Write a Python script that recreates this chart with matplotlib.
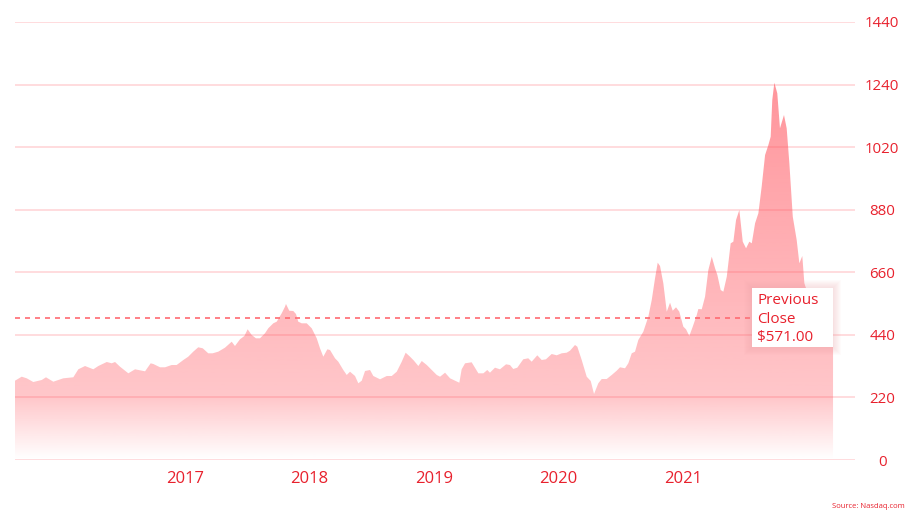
import numpy as np
import matplotlib.pyplot as plt
from matplotlib.patches import Rectangle

plt.rcParams['font.family'] = ['Open Sans', 'DejaVu Sans']

# Дата (доли года) и цена закрытия
t = [2015.500, 2015.555, 2015.596, 2015.650, 2015.719, 2015.754, 2015.814, 2015.896,
     2015.978, 2016.019, 2016.074, 2016.142, 2016.183, 2016.252, 2016.293, 2016.320,
     2016.361, 2016.429, 2016.484, 2016.566, 2016.612, 2016.634, 2016.689, 2016.730,
     2016.784, 2016.825, 2016.880, 2016.920, 2016.961, 2017.002, 2017.039, 2017.084,
     2017.120, 2017.166, 2017.221, 2017.276, 2017.303, 2017.344, 2017.380, 2017.407,
     2017.440, 2017.475, 2017.508, 2017.549, 2017.576, 2017.617, 2017.645, 2017.686,
     2017.713, 2017.721, 2017.748, 2017.781, 2017.803, 2017.822, 2017.850, 2017.891,
     2017.932, 2017.973, 2018.000, 2018.027, 2018.060, 2018.082, 2018.123, 2018.150,
     2018.191, 2018.219, 2018.246, 2018.287, 2018.314, 2018.342, 2018.369, 2018.410,
     2018.437, 2018.492, 2018.547, 2018.588, 2018.629, 2018.670, 2018.702, 2018.738,
     2018.770, 2018.806, 2018.834, 2018.875, 2018.916, 2018.957, 2018.984, 2019.025,
     2019.066, 2019.107, 2019.142, 2019.161, 2019.189, 2019.243, 2019.298, 2019.339,
     2019.371, 2019.393, 2019.434, 2019.475, 2019.525, 2019.557, 2019.584, 2019.617,
     2019.666, 2019.707, 2019.735, 2019.781, 2019.817, 2019.852, 2019.899, 2019.940,
     2019.981, 2020.022, 2020.049, 2020.090, 2020.109, 2020.145, 2020.186, 2020.219,
     2020.246, 2020.281, 2020.309, 2020.350, 2020.391, 2020.432, 2020.459, 2020.500,
     2020.527, 2020.555, 2020.582, 2020.609, 2020.650, 2020.691, 2020.719, 2020.746,
     2020.768, 2020.787, 2020.814, 2020.842, 2020.869, 2020.891, 2020.918, 2020.945,
     2020.978, 2021.000, 2021.027, 2021.055, 2021.088, 2021.101, 2021.129, 2021.156,
     2021.183, 2021.211, 2021.238, 2021.257, 2021.284, 2021.306, 2021.334, 2021.366,
     2021.388, 2021.410, 2021.437, 2021.465, 2021.492, 2021.519, 2021.539, 2021.566,
     2021.593, 2021.620, 2021.648, 2021.675, 2021.694, 2021.707, 2021.724, 2021.748,
     2021.770, 2021.803, 2021.825, 2021.847, 2021.875, 2021.907, 2021.929, 2021.953,
     2021.970, 2022.016, 2022.098, 2022.205]
price = [260.7, 273.9, 268.6, 256.4, 263.0, 271.9, 257.4, 268.6,
         271.9, 298.2, 309.0, 298.2, 309.0, 322.2, 317.9, 322.2,
         306.7, 285.0, 298.2, 291.6, 317.9, 315.6, 304.8, 304.8,
         312.3, 312.3, 328.8, 339.6, 356.1, 370.5, 367.2, 350.8,
         350.8, 356.1, 369.2, 388.9, 374.8, 396.8, 407.7, 429.7,
         411.0, 400.1, 400.1, 416.6, 433.0, 449.4, 454.7, 482.3,
         504.0, 512.9, 490.8, 489.9, 480.0, 454.7, 449.4, 449.4,
         433.0, 400.1, 367.2, 339.6, 363.9, 361.6, 334.4, 323.2,
         295.9, 279.5, 290.3, 276.2, 252.2, 260.7, 292.6, 295.9,
         276.2, 265.3, 276.2, 276.2, 290.3, 323.2, 352.8, 339.6,
         326.5, 309.0, 325.5, 312.3, 295.9, 279.5, 273.9, 287.0,
         268.6, 260.7, 254.1, 298.2, 317.9, 321.2, 285.0, 285.0,
         295.9, 287.0, 303.5, 298.2, 314.6, 312.3, 299.2, 303.5,
         331.1, 334.4, 323.2, 344.2, 328.8, 331.1, 348.5, 344.2,
         350.8, 352.8, 359.3, 378.1, 372.5, 328.8, 273.9, 259.7,
         217.0, 252.2, 266.3, 266.3, 279.5, 293.6, 304.8, 301.5,
         317.9, 350.8, 356.1, 394.5, 421.8, 471.1, 526.0, 597.4,
         648.7, 637.8, 580.9, 487.6, 517.2, 490.8, 502.0, 487.6,
         438.3, 429.7, 407.7, 438.3, 476.7, 496.4, 495.5, 536.9,
         624.7, 668.4, 630.3, 608.2, 558.9, 553.3, 602.6, 712.4,
         717.7, 789.0, 821.9, 717.7, 696.0, 717.7, 712.4, 778.2,
         811.1, 898.5, 1002.7, 1035.6, 1062.9, 1183.6, 1240.4, 1205.6,
         1090.5, 1134.3, 1090.5, 975.5, 799.9, 723.3, 646.7, 670.7,
         580.9, 526.0, 493.0, 466.9]

year_ticks = [2017, 2018, 2019, 2020, 2021]
y_labels = ['0', '220', '440', '660', '880', '1020', '1240', '1440']
prev_close_text = 'Previous\nClose\n$571.00'

red = '#e8212d'
W, H = 914, 519

fig = plt.figure(figsize=(W / 100, H / 100), dpi=100)
ax = fig.add_axes([15 / W, 59 / H, 840 / W, 438 / H])
xmin, xmax = 2015.5, 2022.385
ymax = 1440
ax.set_xlim(xmin, xmax)
ax.set_ylim(0, ymax)

# заливка с вертикальным градиентом
poly = ax.fill_between(t, price, 0, color='none', lw=0)
f = np.linspace(0, 1, 256)
alpha = np.interp(f, [0, 0.14, 1.0], [0.0, 0.33, 0.68])
img = np.zeros((256, 1, 4))
img[..., 0] = 1.0
img[..., 1] = 85 / 255
img[..., 2] = 95 / 255
img[..., 3] = alpha[:, None]
im = ax.imshow(img, extent=[xmin, xmax, 0, ymax], origin='lower', aspect='auto', zorder=2)
im.set_clip_path(poly.get_paths()[0], transform=ax.transData)

# сетка и оси (подписи лет стоят не ровно на 1 января, как в оригинале)
ax.set_yticks(np.linspace(0, ymax, len(y_labels)))
ax.set_yticklabels(y_labels)
ax.yaxis.tick_right()
ax.set_xticks([y - 0.107 + 0.0205 * (y - 2017) for y in year_ticks])
ax.set_xticklabels([str(y) for y in year_ticks])
ax.grid(axis='y', color='#ffd6d8', lw=1.2, zorder=1)
ax.grid(axis='x', visible=False)
ax.tick_params(axis='both', length=0, colors=red)
ax.tick_params(axis='y', pad=19.5, labelsize=10.8)
ax.tick_params(axis='x', pad=8, labelsize=12)
for lab in ax.get_yticklabels():
    lab.set_horizontalalignment('center')
for s in ax.spines.values():
    s.set_visible(False)

# линия предыдущего закрытия
ax.plot([t[0], t[-1]], [price[-1], price[-1]], color='#ff6b72', lw=1.2,
        dashes=(3, 3), zorder=3)

# плашка с подписью
bx, by, bw, bh = 752, 347, 81, 59
for k in range(8, 0, -1):
    fig.patches.append(Rectangle(((bx - k) / W, (H - by - k) / H), (bw + 2 * k) / W,
                                 (bh + 2 * k) / H, transform=fig.transFigure,
                                 fc='#e8a0a4', ec='none', alpha=0.04, zorder=5))
fig.patches.append(Rectangle((bx / W, (H - by) / H), bw / W, bh / H,
                             transform=fig.transFigure, fc='white', ec='none', zorder=6))
fig.text(757.5 / W, (H - 293.5) / H, prev_close_text, ha='left', va='top', fontsize=11,
         color=red, linespacing=1.3, zorder=7)

fig.text(905 / W, (H - 507) / H, 'Source: Nasdaq.com', ha='right', va='center',
         fontsize=5.5, color=red)

fig.savefig('out.png', dpi=100)
